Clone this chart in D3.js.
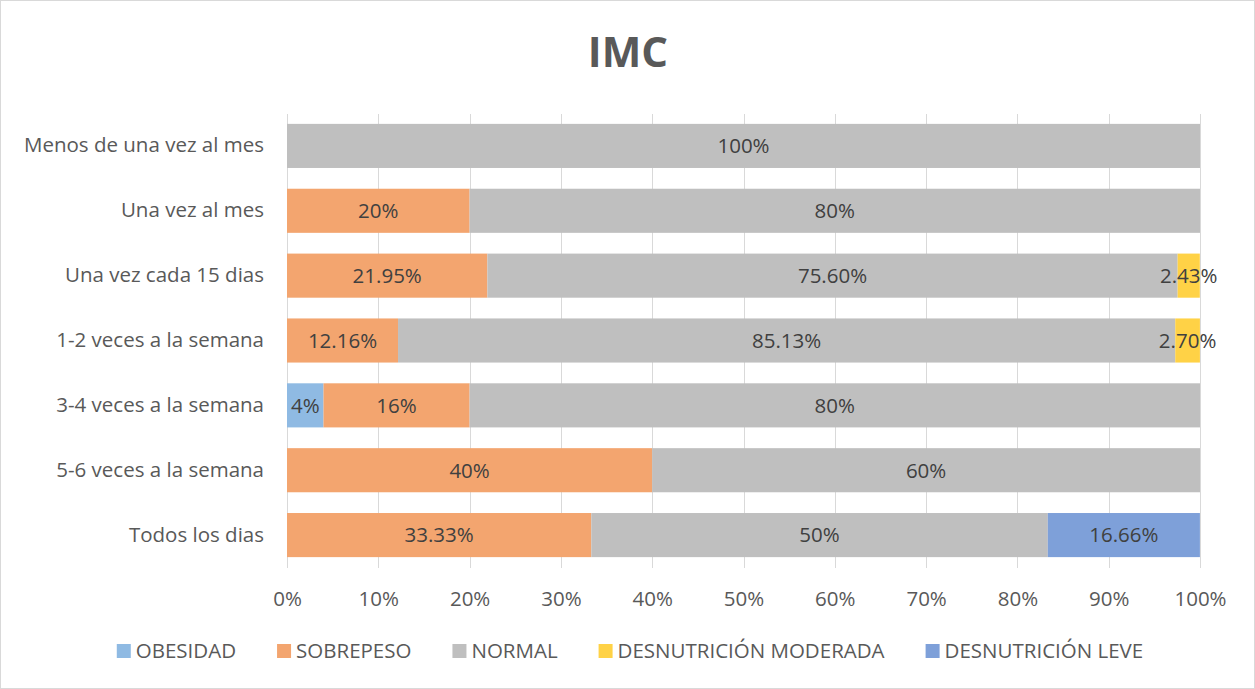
<!DOCTYPE html>
<html lang="en">
	<head>
		<meta charset="utf-8">
		<title>IMC</title>
		<script type="text/javascript" src="https://cdn.jsdelivr.net/npm/d3@7"></script>
		<style>
			body { margin: 0; background: #fff; }
			text { font-family: "Open Sans", "Noto Sans", sans-serif; }
			.grid line { stroke: #d9d9d9; stroke-width: 1px; shape-rendering: crispEdges; }
			.axis text { fill: #595959; font-size: 20.5px; }
			.axis path, .axis line { display: none; }
		</style>
	</head>
	<body>
		<script type="text/javascript">

			var w = 1255;
			var h = 689;

			// categories, top to bottom
			var categories = [
				"Menos de una vez al mes",
				"Una vez al mes",
				"Una vez cada 15 dias",
				"1-2 veces a la semana",
				"3-4 veces a la semana",
				"5-6 veces a la semana",
				"Todos los dias"
			];

			var seriesNames = ["OBESIDAD", "SOBREPESO", "NORMAL", "DESNUTRICIÓN MODERADA", "DESNUTRICIÓN LEVE"];
			var seriesColors = ["#8fbae3", "#f3a56f", "#bfbfbf", "#ffd246", "#7ea0d9"];

			// values in %, same order as categories
			var obesidad    = [0, 0, 0, 0, 4, 0, 0];
			var sobrepeso   = [0, 20, 21.95, 12.16, 16, 40, 33.33];
			var normal      = [100, 80, 75.60, 85.13, 80, 60, 50];
			var desModerada = [0, 0, 2.43, 2.70, 0, 0, 0];
			var desLeve     = [0, 0, 0, 0, 0, 0, 16.66];

			// label text as printed on the bars
			var labels = [
				["", "", "", "", "4%", "", ""],
				["", "20%", "21.95%", "12.16%", "16%", "40%", "33.33%"],
				["100%", "80%", "75.60%", "85.13%", "80%", "60%", "50%"],
				["", "", "2.43%", "2.70%", "", "", ""],
				["", "", "", "", "", "", "16.66%"]
			];

			var xTicks = [0, 10, 20, 30, 40, 50, 60, 70, 80, 90, 100];

			var allSeries = [obesidad, sobrepeso, normal, desModerada, desLeve];

			// build rows for the stack
			var rows = categories.map(function(c, i) {
				var r = { cat: c, idx: i };
				seriesNames.forEach(function(s, j) { r[s] = allSeries[j][i]; });
				return r;
			});

			var stack = d3.stack().keys(seriesNames)(rows);

			var svg = d3.select("body")
				.append("svg")
				.attr("width", w)
				.attr("height", h);

			// outer border
			svg.append("rect")
				.attr("x", 0.5).attr("y", 0.5)
				.attr("width", w - 1).attr("height", h - 1)
				.attr("fill", "#fff")
				.attr("stroke", "#d9d9d9");

			var plotLeft = 287, plotRight = 1200, plotTop = 113.5, plotBottom = 567.5;

			var xScale = d3.scaleLinear().domain([0, 100]).range([plotLeft, plotRight]);
			var yScale = d3.scaleBand().domain(categories).range([plotTop, plotBottom]).paddingInner(0.32).paddingOuter(0.16);

			// title
			svg.append("text")
				.attr("x", 628).attr("y", 67)
				.attr("text-anchor", "middle")
				.attr("fill", "#595959")
				.style("font-size", "42px")
				.style("font-weight", "bold")
				.text("IMC");

			// gridlines
			svg.append("g")
				.attr("class", "grid")
				.selectAll("line")
				.data(xTicks)
				.enter()
				.append("line")
				.attr("x1", function(d) { return Math.round(xScale(d)) + 0.5; })
				.attr("x2", function(d) { return Math.round(xScale(d)) + 0.5; })
				.attr("y1", plotTop)
				.attr("y2", plotBottom);

			// bars
			var layers = svg.append("g")
				.selectAll("g")
				.data(stack)
				.enter()
				.append("g")
				.attr("fill", function(d, i) { return seriesColors[i]; });

			layers.selectAll("rect")
				.data(function(d) { return d.filter(function(p) { return p[1] - p[0] > 0; }); })
				.enter()
				.append("rect")
				.attr("x", function(d) { return xScale(d[0]); })
				.attr("y", function(d) { return yScale(d.data.cat); })
				.attr("width", function(d) { return xScale(d[1]) - xScale(d[0]); })
				.attr("height", yScale.bandwidth());

			// data labels
			stack.forEach(function(layer, j) {
				svg.append("g")
					.selectAll("text")
					.data(layer.filter(function(p) { return p[1] - p[0] > 0; }))
					.enter()
					.append("text")
					.attr("x", function(d) { return xScale((d[0] + d[1]) / 2); })
					.attr("y", function(d) { return yScale(d.data.cat) + yScale.bandwidth() / 2; })
					.attr("dy", "0.36em")
					.attr("text-anchor", "middle")
					.attr("fill", "#404040")
					.style("font-size", "20.5px")
					.text(function(d) { return labels[j][d.data.idx]; });
			});

			// x axis
			var xAxis = d3.axisBottom(xScale)
				.tickValues(xTicks)
				.tickSize(0)
				.tickPadding(0)
				.tickFormat(function(d) { return d + "%"; });

			svg.append("g")
				.attr("class", "axis")
				.attr("transform", "translate(0," + (plotBottom + 24) + ")")
				.call(xAxis);

			// y axis
			var yAxis = d3.axisLeft(yScale).tickSize(0).tickPadding(23);
			svg.append("g")
				.attr("class", "axis")
				.attr("transform", "translate(" + plotLeft + ",0)")
				.call(yAxis);

			// legend
			var legend = svg.append("g");
			var items = legend.selectAll("g")
				.data(seriesNames)
				.enter()
				.append("g");

			items.append("rect")
				.attr("width", 14).attr("height", 14)
				.attr("y", 644)
				.attr("fill", function(d, i) { return seriesColors[i]; });

			items.append("text")
				.attr("x", 19)
				.attr("y", 651)
				.attr("dy", "0.36em")
				.attr("fill", "#595959")
				.style("font-size", "20.5px")
				.text(function(d) { return d; });

			// lay out legend items one after another, centred
			var widths = [];
			items.each(function() {
				widths.push(19 + d3.select(this).select("text").node().getComputedTextLength());
			});
			var gap = 41;
			var total = d3.sum(widths) + gap * (widths.length - 1);
			var lx = 630 - total / 2;
			items.each(function(d, i) {
				d3.select(this).attr("transform", "translate(" + lx + ",0)");
				lx += widths[i] + gap;
			});

		</script>
	</body>
</html>
